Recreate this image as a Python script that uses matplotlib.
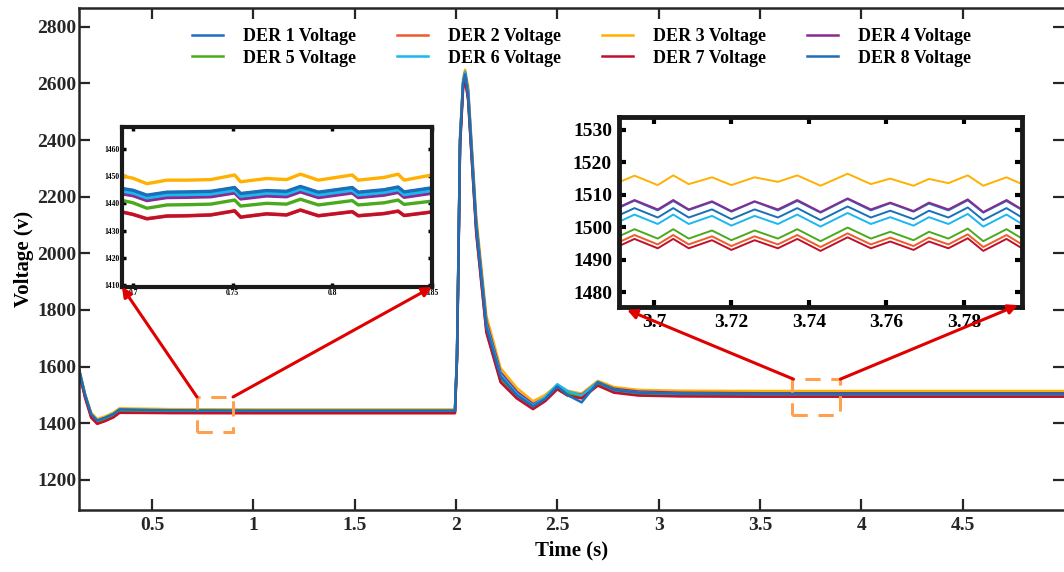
import matplotlib
matplotlib.use("Agg")
import matplotlib.pyplot as plt
from matplotlib.patches import Rectangle
from matplotlib.ticker import FixedLocator, FixedFormatter

plt.rcParams['font.family'] = ['Liberation Serif', 'DejaVu Serif']
plt.rcParams['font.weight'] = 'bold'

labels = ['DER 1 Voltage', 'DER 2 Voltage', 'DER 3 Voltage', 'DER 4 Voltage',
          'DER 5 Voltage', 'DER 6 Voltage', 'DER 7 Voltage', 'DER 8 Voltage']
colors = ['#1f6fc0', '#f05a28', '#ffb000', '#8b2a90',
          '#4aaa1e', '#1ab8ee', '#c0102c', '#1a6fb8']

# ---- main trace (time in s, voltage in V) ----
t_main = [0.14, 0.17, 0.20, 0.23, 0.27, 0.31, 0.34, 0.60, 1.00, 1.50, 1.995, 2.005, 2.012,
          2.02, 2.035, 2.045, 2.06, 2.10, 2.15, 2.22, 2.30, 2.38, 2.44, 2.50, 2.55, 2.62,
          2.70, 2.78, 2.90, 3.10, 3.50, 4.00, 5.00]
v1_main = [1590, 1500, 1432, 1410, 1420, 1433, 1449, 1446, 1444, 1444, 1444, 1640, 1980, 2400, 2600, 2635, 2560,
           2095, 1745, 1570, 1505, 1462, 1488, 1532, 1512, 1490, 1542, 1520, 1512, 1508, 1506, 1506, 1506]
v2_main = [1582, 1492, 1422, 1400, 1410, 1423, 1439, 1437, 1436, 1436, 1436, 1625, 1960, 2380, 2585, 2620, 2545,
           2075, 1725, 1550, 1490, 1452, 1480, 1522, 1500, 1490, 1535, 1510, 1500, 1497, 1496, 1495, 1495]
v3_main = [1595, 1505, 1438, 1415, 1425, 1438, 1453, 1450, 1449, 1449, 1449, 1650, 2000, 2420, 2620, 2648, 2590,
           2130, 1780, 1595, 1525, 1478, 1500, 1535, 1515, 1505, 1550, 1528, 1518, 1515, 1514, 1514, 1514]
v4_main = [1588, 1498, 1430, 1408, 1418, 1431, 1447, 1443, 1442, 1442, 1442, 1635, 1975, 2395, 2600, 2640, 2575,
           2110, 1760, 1580, 1512, 1468, 1490, 1530, 1510, 1500, 1545, 1522, 1512, 1508, 1506, 1506, 1506]
v5_main = [1585, 1496, 1427, 1405, 1415, 1428, 1444, 1441, 1440, 1440, 1440, 1630, 1970, 2390, 2590, 2625, 2550,
           2085, 1735, 1560, 1498, 1458, 1485, 1528, 1505, 1495, 1538, 1515, 1505, 1500, 1498, 1497, 1497]
v6_main = [1590, 1500, 1432, 1410, 1420, 1433, 1448, 1445, 1444, 1444, 1444, 1640, 1980, 2400, 2605, 2640, 2570,
           2100, 1750, 1572, 1505, 1463, 1492, 1538, 1514, 1498, 1546, 1518, 1508, 1504, 1502, 1502, 1502]
v7_main = [1580, 1490, 1420, 1398, 1408, 1421, 1437, 1436, 1436, 1436, 1436, 1620, 1955, 2375, 2580, 2615, 2540,
           2070, 1720, 1545, 1488, 1450, 1478, 1520, 1498, 1488, 1533, 1508, 1498, 1495, 1494, 1494, 1494]
v8_main = [1590, 1500, 1432, 1410, 1420, 1433, 1449, 1446, 1445, 1445, 1445, 1640, 1980, 2400, 2600, 2632, 2555,
           2090, 1740, 1565, 1500, 1460, 1486, 1530, 1500, 1474, 1545, 1518, 1508, 1505, 1504, 1504, 1504]

# ---- inset 1 (0.695 - 0.85 s) ----
t_in1 = [0.695, 0.700, 0.707, 0.717, 0.727, 0.739, 0.751, 0.754, 0.767, 0.777, 0.784, 0.793,
         0.810, 0.813, 0.826, 0.833, 0.836, 0.850]
v1_in1 = [1445.2, 1444.6, 1442.8, 1443.9, 1444.0, 1444.2, 1445.6, 1443.4, 1444.5, 1444.2, 1446.0, 1443.9, 1445.6, 1443.9, 1444.8, 1445.8, 1444.0, 1445.5]
v2_in1 = [1436.8, 1436.0, 1434.4, 1435.4, 1435.5, 1435.8, 1437.3, 1435.0, 1436.2, 1435.8, 1437.6, 1435.5, 1437.0, 1435.5, 1436.3, 1437.2, 1435.6, 1436.9]
v3_in1 = [1450.0, 1449.2, 1447.2, 1448.5, 1448.5, 1448.7, 1450.4, 1447.9, 1449.1, 1448.7, 1450.7, 1448.5, 1450.4, 1448.5, 1449.5, 1450.7, 1448.5, 1450.4]
v4_in1 = [1443.4, 1442.8, 1441.0, 1442.1, 1442.2, 1442.4, 1443.8, 1441.6, 1442.7, 1442.4, 1444.2, 1442.1, 1443.8, 1442.1, 1443.0, 1444.0, 1442.2, 1443.7]
v5_in1 = [1441.0, 1440.2, 1438.2, 1439.4, 1439.5, 1439.7, 1441.2, 1439.0, 1440.0, 1439.7, 1441.5, 1439.4, 1441.0, 1439.4, 1440.2, 1441.2, 1439.6, 1440.8]
v6_in1 = [1444.4, 1443.8, 1442.0, 1443.1, 1443.2, 1443.4, 1444.8, 1442.6, 1443.7, 1443.4, 1445.2, 1443.1, 1444.8, 1443.1, 1444.0, 1445.0, 1443.2, 1444.7]
v7_in1 = [1436.7, 1435.9, 1434.3, 1435.3, 1435.4, 1435.7, 1437.2, 1434.9, 1436.1, 1435.7, 1437.5, 1435.4, 1436.9, 1435.4, 1436.2, 1437.1, 1435.5, 1436.8]
v8_in1 = [1445.4, 1444.8, 1443.0, 1444.1, 1444.2, 1444.4, 1445.8, 1443.6, 1444.7, 1444.4, 1446.2, 1444.1, 1445.8, 1444.1, 1445.0, 1446.0, 1444.2, 1445.7]

# ---- inset 2 (3.691 - 3.795 s) ----
t_in2 = [3.691, 3.695, 3.701, 3.705, 3.709, 3.715, 3.720, 3.726, 3.732, 3.737, 3.743,
         3.750, 3.756, 3.761, 3.767, 3.771, 3.776, 3.781, 3.785, 3.791, 3.795]
v1_in2 = [1506.0, 1508.2, 1505.2, 1508.1, 1505.3, 1507.8, 1504.8, 1507.9, 1505.2, 1508.1, 1504.5, 1508.7, 1505.2, 1507.4, 1504.8, 1507.3, 1505.2, 1508.3, 1504.5, 1508.1, 1505.3]
v2_in2 = [1495.4, 1497.6, 1494.7, 1497.6, 1494.7, 1497.2, 1494.2, 1497.2, 1494.7, 1497.6, 1493.9, 1498.1, 1494.7, 1496.8, 1494.2, 1496.8, 1494.7, 1497.8, 1493.9, 1497.6, 1494.7]
v3_in2 = [1513.9, 1515.9, 1513.0, 1516.0, 1513.3, 1515.4, 1513.0, 1515.4, 1514.0, 1516.0, 1512.8, 1516.5, 1513.3, 1515.0, 1512.8, 1514.9, 1513.6, 1516.0, 1512.8, 1515.4, 1513.3]
v4_in2 = [1506.2, 1508.4, 1505.5, 1508.4, 1505.5, 1508.0, 1505.0, 1508.0, 1505.5, 1508.4, 1504.7, 1508.9, 1505.5, 1507.6, 1505.0, 1507.6, 1505.5, 1508.6, 1504.7, 1508.4, 1505.5]
v5_in2 = [1497.2, 1499.4, 1496.5, 1499.4, 1496.5, 1499.0, 1496.0, 1499.0, 1496.5, 1499.4, 1495.7, 1499.9, 1496.5, 1498.6, 1496.0, 1498.6, 1496.5, 1499.6, 1495.7, 1499.4, 1496.5]
v6_in2 = [1501.7, 1503.9, 1501.0, 1503.9, 1501.0, 1503.5, 1500.5, 1503.5, 1501.0, 1503.9, 1500.2, 1504.4, 1501.0, 1503.1, 1500.5, 1503.1, 1501.0, 1504.1, 1500.2, 1503.9, 1501.0]
v7_in2 = [1494.2, 1496.4, 1493.5, 1496.4, 1493.5, 1496.0, 1493.0, 1496.0, 1493.5, 1496.4, 1492.7, 1496.9, 1493.5, 1495.6, 1493.0, 1495.6, 1493.5, 1496.6, 1492.7, 1496.4, 1493.5]
v8_in2 = [1503.7, 1505.9, 1503.0, 1505.9, 1503.0, 1505.5, 1502.5, 1505.5, 1503.0, 1505.9, 1502.2, 1506.4, 1503.0, 1505.1, 1502.5, 1505.1, 1503.0, 1506.1, 1502.2, 1505.9, 1503.0]

main_series = [v1_main, v2_main, v3_main, v4_main, v5_main, v6_main, v7_main, v8_main]
in1_series = [v1_in1, v2_in1, v3_in1, v4_in1, v5_in1, v6_in1, v7_in1, v8_in1]
in2_series = [v1_in2, v2_in2, v3_in2, v4_in2, v5_in2, v6_in2, v7_in2, v8_in2]

x_ticks = [0.5, 1, 1.5, 2, 2.5, 3, 3.5, 4, 4.5]
x_ticklabels = ['0.5', '1', '1.5', '2', '2.5', '3', '3.5', '4', '4.5']
y_ticks = [1200, 1400, 1600, 1800, 2000, 2200, 2400, 2600, 2800]
in1_xticks = [0.7, 0.75, 0.8, 0.85]
in1_yticks = [1410, 1420, 1430, 1440, 1450, 1460]
in2_xticks = [3.7, 3.72, 3.74, 3.76, 3.78]
in2_yticks = [1480, 1490, 1500, 1510, 1520, 1530]

W, H = 1064, 572
fig = plt.figure(figsize=(W / 100, H / 100), dpi=100)

def fr(x0, y0, x1, y1):
    return [x0 / W, 1 - y1 / H, (x1 - x0) / W, (y1 - y0) / H]

ax = fig.add_axes(fr(79, 8, 1064, 510))
handles = []
for v, c, lab in zip(main_series, colors, labels):
    h, = ax.plot(t_main, v, color=c, lw=1.8, label=lab)
    handles.append(h)
ax.set_xlim(0.14, 5.0)
ax.set_ylim(1094, 2866)
ax.xaxis.set_major_locator(FixedLocator(x_ticks))
ax.xaxis.set_major_formatter(FixedFormatter(x_ticklabels))
ax.set_yticks(y_ticks)
ax.tick_params(direction='in', length=8, width=1.6, labelsize=14, top=True, right=True,
               colors='#262626')
ax.tick_params(axis='y', pad=2)
ax.tick_params(axis='x', pad=5)
for lbl in ax.get_xticklabels() + ax.get_yticklabels():
    lbl.set_fontweight('bold')
for s in ax.spines.values():
    s.set_linewidth(1.8)
    s.set_color('#262626')
ax.spines['right'].set_visible(False)
ax.set_xlabel('Time (s)', fontsize=15, fontweight='bold', labelpad=5)
ax.set_ylabel('Voltage (v)', fontsize=15, fontweight='bold', labelpad=2)

# legend filled row by row (DER1-4 on first row, DER5-8 on second)
order = [0, 4, 1, 5, 2, 6, 3, 7]
ax.legend([handles[i] for i in order], [labels[i] for i in order], ncol=4,
          loc='upper left', bbox_to_anchor=(0.1147, 0.960), frameon=False,
          borderaxespad=0, borderpad=0,
          prop={'weight': 'bold', 'size': 13}, handlelength=1.7, columnspacing=2.3,
          handletextpad=1.1, labelspacing=0.25)

# zoom boxes
box_kw = dict(fill=False, edgecolor='#ffa050', lw=2.2, linestyle=(0, (5, 3.5)), zorder=5)
ax.add_patch(Rectangle((0.722, 1370), 0.178, 123, **box_kw))
ax.add_patch(Rectangle((3.657, 1429), 0.240, 127, **box_kw))

# inset 1
ins1 = fig.add_axes(fr(122, 127, 432, 287))
for v, c in zip(in1_series, colors):
    ins1.plot(t_in1, v, color=c, lw=2.4)
ins1.set_xlim(0.6945, 0.85)
ins1.set_ylim(1409.3, 1468)
ins1.set_xticks(in1_xticks)
ins1.set_xticklabels(['0.7', '0.75', '0.8', '0.85'])
ins1.set_yticks(in1_yticks)
ins1.tick_params(direction='in', length=3, width=2.5, labelsize=5.5, top=True, right=True, pad=1.5)
for s in ins1.spines.values():
    s.set_linewidth(3)
    s.set_color('#1a1a1a')

# inset 2
ins2 = fig.add_axes(fr(619, 117, 1022, 307))
for v, c in zip(in2_series, colors):
    ins2.plot(t_in2, v, color=c, lw=1.4)
ins2.set_xlim(3.691, 3.795)
ins2.set_ylim(1475.4, 1534)
ins2.set_xticks(in2_xticks)
ins2.set_xticklabels(['3.7', '3.72', '3.74', '3.76', '3.78'])
ins2.set_yticks(in2_yticks)
ins2.tick_params(direction='in', length=5, width=3, labelsize=14, top=True, right=True, pad=5)
for s in ins2.spines.values():
    s.set_linewidth(3.5)
    s.set_color('#1a1a1a')

# arrows
arr = dict(arrowstyle='-|>', color='#e00000', lw=2.2, mutation_scale=14, shrinkA=0, shrinkB=0)
ins1.annotate('', xy=(0, 0), xycoords='axes fraction', xytext=(0.722, 1493),
              textcoords=ax.transData, arrowprops=arr, annotation_clip=False)
ins1.annotate('', xy=(1, 0), xycoords='axes fraction', xytext=(0.900, 1493),
              textcoords=ax.transData, arrowprops=arr, annotation_clip=False)
ins2.annotate('', xy=(0.02, -0.015), xycoords='axes fraction', xytext=(3.665, 1556),
              textcoords=ax.transData, arrowprops=arr, annotation_clip=False)
ins2.annotate('', xy=(0.99, 0.01), xycoords='axes fraction', xytext=(3.897, 1556),
              textcoords=ax.transData, arrowprops=arr, annotation_clip=False)

fig.savefig('out.png', dpi=100)
